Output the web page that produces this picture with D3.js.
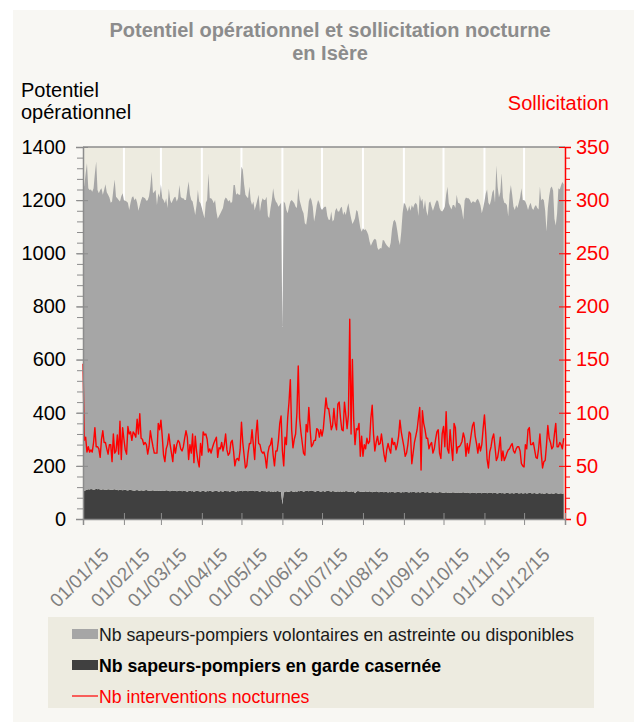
<!DOCTYPE html>
<html lang="fr">
<head>
<meta charset="utf-8">
<script src="https://cdn.jsdelivr.net/npm/d3@7"></script>
<style>
  body { margin: 0; background: #ffffff; }
  svg { display: block; font-family: 'Liberation Sans', Arial, Helvetica, sans-serif; }
</style>
</head>
<body>
<svg width="634" height="722" viewBox="0 0 634 722"></svg>
<script>
// input data, one value per day of 2015, one line per month
// potentiel opérationnel total (volontaires + garde casernée)
const potentiel = [
  1238, 1255, 1300, 1339, 1245, 1238, 1240, 1232, 1245, 1300, 1345, 1238, 1226, 1238, 1245, 1220, 1238, 1260, 1230, 1220, 1210, 1190, 1195, 1240, 1278, 1213, 1207, 1201, 1195, 1215, 1226,
  1200, 1198, 1195, 1190, 1163, 1190, 1210, 1215, 1200, 1207, 1190, 1160, 1180, 1200, 1213, 1210, 1207, 1198, 1200, 1215, 1251, 1307, 1226, 1232, 1238, 1182, 1226, 1210,
  1260, 1207, 1201, 1188, 1207, 1170, 1244, 1201, 1188, 1200, 1210, 1213, 1195, 1207, 1257, 1213, 1207, 1207, 1201, 1201, 1238, 1270, 1220, 1201, 1195, 1170, 1144, 1182, 1238, 1195, 1188,
  1170, 1150, 1132, 1190, 1201, 1301, 1207, 1207, 1201, 1188, 1201, 1157, 1130, 1140, 1150, 1160, 1170, 1200, 1210, 1205, 1195, 1201, 1188, 1195, 1257, 1257, 1220, 1226, 1220, 1220,
  1326, 1314, 1260, 1220, 1213, 1207, 1251, 1200, 1182, 1195, 1163, 1180, 1201, 1220, 1157, 1190, 1207, 1201, 1201, 1213, 1140, 1132, 1170, 1201, 1245, 1210, 1195, 1188, 1175, 1182, 1190,
  723, 1195, 1188, 1163, 1151, 1175, 1195, 1201, 1195, 1188, 1175, 1170, 1245, 1201, 1182, 1163, 1151, 1113, 1107, 1140, 1195, 1210, 1201, 1175, 1120, 1145, 1180, 1201, 1190, 1170,
  1163, 1170, 1175, 1175, 1140, 1126, 1126, 1157, 1120, 1126, 1160, 1170, 1157, 1157, 1170, 1175, 1144, 1157, 1144, 1170, 1188, 1157, 1132, 1110, 1120, 1132, 1163, 1157, 1126, 1095, 1081,
  1094, 1088, 1090, 1082, 1070, 1044, 1028, 1040, 1050, 1055, 1050, 1020, 1012, 1020, 1018, 1050, 1048, 1038, 1030, 1025, 1020, 1040, 1090, 1120, 1126, 1115, 1085, 1050, 1031, 1080, 1151,
  1190, 1185, 1170, 1157, 1180, 1160, 1182, 1170, 1185, 1190, 1182, 1140, 1220, 1195, 1205, 1165, 1201, 1160, 1140, 1190, 1195, 1175, 1160, 1175, 1190, 1201, 1195, 1170, 1160, 1157,
  1165, 1175, 1220, 1250, 1188, 1175, 1165, 1182, 1182, 1170, 1220, 1190, 1188, 1182, 1160, 1126, 1200, 1210, 1207, 1207, 1201, 1188, 1195, 1195, 1190, 1201, 1205, 1195, 1180, 1151, 1170,
  1195, 1225, 1240, 1190, 1182, 1200, 1230, 1240, 1190, 1330, 1250, 1210, 1230, 1301, 1210, 1190, 1188, 1182, 1138, 1220, 1257, 1220, 1175, 1163, 1182, 1170, 1190, 1210, 1245, 1200,
  1201, 1195, 1182, 1163, 1180, 1190, 1170, 1163, 1175, 1182, 1170, 1165, 1251, 1200, 1205, 1200, 1160, 1082, 1170, 1215, 1245, 1251, 1235, 1130, 1105, 1150, 1245, 1240, 1255, 1268, 1260,
];

// sapeurs-pompiers en garde casernée
const garde = [
  104, 106, 108, 110, 112, 111, 113, 112, 110, 111, 114, 112, 113, 111, 110, 112, 111, 109, 110, 112, 111, 110, 109, 111, 112, 110, 109, 108, 110, 109, 108,
  109, 110, 108, 107, 109, 110, 108, 107, 106, 108, 109, 107, 106, 108, 107, 106, 108, 109, 107, 106, 105, 107, 108, 106, 105, 107, 106, 105,
  106, 107, 105, 106, 108, 107, 105, 104, 106, 107, 105, 106, 104, 105, 107, 106, 104, 105, 106, 104, 103, 105, 106, 104, 105, 103, 104, 106, 105, 104, 103,
  105, 106, 104, 103, 105, 104, 106, 105, 103, 104, 105, 106, 104, 103, 105, 104, 103, 105, 106, 104, 105, 103, 104, 106, 105, 104, 103, 105, 104, 106,
  105, 104, 106, 107, 105, 104, 106, 105, 107, 106, 104, 105, 106, 104, 103, 105, 106, 104, 105, 103, 104, 105, 103, 104, 102, 104, 103, 105, 104, 103, 102,
  55, 100, 103, 104, 102, 103, 104, 105, 103, 102, 104, 103, 105, 104, 106, 105, 103, 104, 106, 105, 104, 106, 107, 105, 104, 103, 105, 106, 104, 103,
  104, 105, 103, 104, 106, 105, 104, 103, 105, 104, 103, 102, 104, 103, 104, 102, 104, 103, 105, 104, 103, 102, 104, 103, 104, 97, 103, 105, 104, 103, 102,
  103, 102, 104, 103, 102, 104, 103, 101, 103, 102, 104, 103, 101, 102, 103, 102, 101, 103, 102, 100, 102, 101, 103, 102, 100, 101, 102, 103, 101, 100, 102,
  101, 102, 103, 101, 100, 102, 101, 103, 102, 100, 101, 102, 100, 101, 103, 102, 100, 101, 102, 100, 99, 101, 102, 100, 101, 99, 100, 102, 101, 100,
  98, 100, 101, 99, 100, 98, 99, 101, 100, 99, 98, 100, 99, 98, 100, 101, 99, 98, 100, 99, 97, 98, 100, 99, 98, 97, 99, 100, 98, 97, 99,
  98, 99, 97, 98, 100, 99, 97, 98, 99, 97, 96, 98, 99, 97, 98, 96, 97, 99, 98, 96, 97, 98, 96, 97, 99, 98, 96, 97, 98, 96,
  97, 98, 96, 97, 99, 98, 96, 97, 98, 96, 95, 97, 98, 96, 97, 95, 96, 98, 97, 95, 96, 97, 95, 96, 98, 97, 95, 96, 97, 95, 96,
];

// interventions nocturnes (axe de droite)
const interventions = [
  146, 74, 77, 63, 68, 63, 65, 63, 72, 86, 68, 68, 66, 58, 75, 83, 72, 72, 66, 61, 70, 70, 54, 80, 62, 64, 79, 61, 92, 56, 86,
  75, 65, 61, 87, 80, 82, 74, 82, 80, 77, 94, 80, 99, 76, 75, 70, 72, 70, 61, 68, 83, 75, 68, 62, 62, 62, 90, 84,
  93, 78, 60, 54, 66, 70, 80, 70, 62, 54, 70, 62, 70, 74, 72, 66, 64, 68, 76, 83, 77, 56, 70, 62, 80, 53, 78, 64, 55, 49, 71,
  60, 82, 79, 80, 75, 63, 66, 62, 67, 71, 74, 77, 58, 67, 66, 72, 64, 70, 80, 65, 60, 62, 72, 74, 64, 50, 56, 57, 55, 65,
  91, 72, 60, 48, 50, 62, 71, 71, 84, 70, 56, 80, 93, 71, 70, 64, 62, 63, 58, 48, 62, 68, 70, 76, 60, 50, 64, 64, 74, 90, 97,
  64, 50, 77, 70, 95, 110, 131, 84, 67, 75, 80, 100, 144, 95, 82, 72, 62, 60, 89, 82, 105, 84, 68, 70, 74, 74, 85, 84, 77, 84,
  78, 85, 100, 114, 104, 104, 95, 84, 88, 104, 90, 84, 108, 110, 95, 84, 83, 110, 98, 85, 98, 188, 80, 150, 93, 70, 85, 84, 90, 59, 78,
  59, 70, 66, 76, 71, 73, 95, 107, 80, 64, 72, 78, 70, 71, 80, 70, 60, 54, 65, 71, 66, 62, 76, 70, 72, 65, 70, 78, 93, 82, 75,
  68, 59, 62, 70, 82, 80, 52, 62, 72, 78, 84, 95, 105, 46, 102, 90, 84, 76, 76, 66, 70, 72, 62, 66, 75, 82, 84, 62, 57, 80,
  87, 68, 101, 66, 62, 84, 68, 55, 90, 86, 62, 68, 68, 70, 73, 81, 76, 59, 71, 62, 71, 80, 88, 91, 78, 71, 62, 71, 64, 70, 85,
  98, 80, 56, 48, 63, 68, 76, 80, 68, 55, 58, 66, 77, 55, 64, 55, 58, 62, 65, 66, 69, 71, 64, 62, 66, 68, 68, 64, 52, 50,
  49, 70, 66, 84, 86, 70, 70, 72, 65, 58, 57, 66, 80, 62, 48, 54, 55, 70, 88, 76, 72, 66, 68, 80, 90, 68, 68, 72, 70, 66, 76,
];

// tick labels
const leftTicks = [0, 200, 400, 600, 800, 1000, 1200, 1400];
const rightTicks = [0, 50, 100, 150, 200, 250, 300, 350];
const monthLabels = ['01/01/15', '01/02/15', '01/03/15', '01/04/15', '01/05/15', '01/06/15', '01/07/15', '01/08/15', '01/09/15', '01/10/15', '01/11/15', '01/12/15'];

// legend entries
const legendItems = [
  { name: 'Nb sapeurs-pompiers volontaires en astreinte ou disponibles', type: 'area', color: '#a6a6a6', textColor: '#1a1a1a', weight: 'normal' },
  { name: 'Nb sapeurs-pompiers en garde casernée', type: 'area', color: '#404040', textColor: '#000000', weight: 'bold' },
  { name: 'Nb interventions nocturnes', type: 'line', color: '#ff0000', textColor: '#ff0000', weight: 'normal' },
];

const svg = d3.select('svg');

// plot area bounds in the svg canvas
const plot = { left: 83, right: 565, top: 147, bottom: 519 };

const start = new Date(2015, 0, 1);
const end = new Date(2016, 0, 1);

// one row per day, volontaires stacked on top of the garde
const rows = potentiel.map((p, i) => ({
  date: d3.timeDay.offset(start, i),
  garde: garde[i],
  volontaires: p - garde[i],
  interventions: interventions[i],
}));

const x = d3.scaleTime().domain([start, end]).range([plot.left, plot.right]);
const yLeft = d3.scaleLinear().domain([0, 1400]).range([plot.bottom, plot.top]);
const yRight = d3.scaleLinear().domain([0, 350]).range([plot.bottom, plot.top]);

// BACKGROUND
svg
  .append('rect')
  .attr('x', 13)
  .attr('y', 10)
  .attr('width', 621)
  .attr('height', 712)
  .attr('fill', '#f8f7f3');

svg
  .append('rect')
  .attr('x', plot.left)
  .attr('y', plot.top)
  .attr('width', plot.right - plot.left)
  .attr('height', plot.bottom - plot.top)
  .attr('fill', '#edebe0');

// white vertical gridlines at month starts, behind the areas
const months = d3.timeMonth.range(d3.timeMonth.offset(start, 1), end);
svg
  .append('g')
  .selectAll('line')
  .data(months)
  .join('line')
  .attr('x1', d => x(d))
  .attr('x2', d => x(d))
  .attr('y1', plot.top)
  .attr('y2', plot.bottom)
  .attr('stroke', '#ffffff')
  .attr('stroke-width', 2);

// STACKED AREAS
const stack = d3.stack().keys(['garde', 'volontaires']);
const series = stack(rows);
const areaColors = { garde: '#404040', volontaires: '#a6a6a6' };

const area = d3
  .area()
  .x(d => x(d.data.date))
  .y0(d => yLeft(d[0]))
  .y1(d => yLeft(d[1]));

svg
  .append('g')
  .selectAll('path')
  .data(series)
  .join('path')
  .attr('d', area)
  .attr('fill', d => areaColors[d.key]);

// RED LINE
const line = d3
  .line()
  .x(d => x(d.date))
  .y(d => yRight(d.interventions));

svg
  .append('path')
  .datum(rows)
  .attr('d', line)
  .attr('fill', 'none')
  .attr('stroke', '#ff0000')
  .attr('stroke-width', 1.4)
  .attr('stroke-linejoin', 'round');

// AXES
const axisGray = '#8c8c8c';

// frame line on top of the plot
svg
  .append('line')
  .attr('x1', plot.left)
  .attr('x2', plot.right)
  .attr('y1', plot.top)
  .attr('y2', plot.top)
  .attr('stroke', axisGray)
  .attr('stroke-width', 1.5);

// left axis: minor ticks every 40, major ticks cross the axis line
const gLeft = svg.append('g').attr('transform', `translate(${plot.left} 0)`);
gLeft
  .append('g')
  .call(d3.axisLeft(yLeft).tickValues(d3.range(0, 1401, 40)).tickSize(6).tickFormat(''))
  .call(g => g.select('.domain').remove())
  .selectAll('line')
  .attr('stroke', axisGray);
gLeft
  .append('g')
  .call(d3.axisLeft(yLeft).tickValues(leftTicks).tickSize(7).tickFormat(d3.format('d')))
  .call(g => g.select('.domain').attr('stroke', axisGray).attr('stroke-width', 1.5))
  .call(g => g.selectAll('line').attr('x2', -7).attr('x1', 5).attr('stroke', axisGray))
  .call(g =>
    g
      .selectAll('text')
      .attr('x', -17)
      .attr('font-size', 20)
      .attr('font-family', "'Liberation Sans', Arial, sans-serif")
      .attr('fill', '#000000')
  );

// right axis in red
const gRight = svg.append('g').attr('transform', `translate(${plot.right} 0)`);
gRight
  .append('g')
  .call(d3.axisRight(yRight).tickValues(d3.range(0, 351, 10)).tickSize(5).tickFormat(''))
  .call(g => g.select('.domain').remove())
  .selectAll('line')
  .attr('stroke', '#ff0000');
gRight
  .append('g')
  .call(d3.axisRight(yRight).tickValues(rightTicks).tickSize(6))
  .call(g => g.select('.domain').attr('stroke', '#ff0000').attr('stroke-width', 1.5))
  .call(g => g.selectAll('line').attr('x1', -6).attr('x2', 6).attr('stroke', '#ff0000'))
  .call(g =>
    g
      .selectAll('text')
      .attr('x', 11)
      .attr('font-size', 20)
      .attr('font-family', "'Liberation Sans', Arial, sans-serif")
      .attr('fill', '#ff0000')
  );

// bottom axis with ticks crossing the line at each month start
const gBottom = svg.append('g').attr('transform', `translate(0 ${plot.bottom})`);
gBottom
  .call(d3.axisBottom(x).tickValues(d3.timeMonth.range(start, d3.timeDay.offset(end, 1))).tickSize(6).tickFormat(''))
  .call(g => g.select('.domain').attr('stroke', axisGray).attr('stroke-width', 1.5))
  .call(g => g.selectAll('line').attr('y1', -6).attr('y2', 6).attr('stroke', axisGray));

// rotated month labels, text end placed right of and below each tick
svg
  .append('g')
  .selectAll('text')
  .data(monthLabels)
  .join('text')
  .attr('transform', (d, i) => `translate(${x(d3.timeMonth.offset(start, i)) + 27} 556) rotate(-45)`)
  .attr('text-anchor', 'end')
  .attr('font-size', 19)
  .attr('fill', '#808080')
  .text(d => d);

// TITLES
svg
  .append('text')
  .attr('x', 330)
  .attr('y', 37)
  .attr('text-anchor', 'middle')
  .attr('font-size', 20)
  .attr('font-weight', 'bold')
  .attr('fill', '#8c8c8c')
  .html('<tspan x="330">Potentiel opérationnel et sollicitation nocturne</tspan><tspan x="330" dy="23">en Isère</tspan>');

svg
  .append('text')
  .attr('x', 21)
  .attr('y', 97)
  .attr('font-size', 20)
  .attr('fill', '#000000')
  .html('<tspan x="21">Potentiel</tspan><tspan x="21" dy="22">opérationnel</tspan>');

svg
  .append('text')
  .attr('x', 609)
  .attr('y', 110)
  .attr('text-anchor', 'end')
  .attr('font-size', 20)
  .attr('fill', '#ff0000')
  .text('Sollicitation');

// LEGEND
const legend = svg.append('g');
legend
  .append('rect')
  .attr('x', 48)
  .attr('y', 617)
  .attr('width', 546)
  .attr('height', 91)
  .attr('fill', '#edebe0');

const legendRows = legend
  .selectAll('g')
  .data(legendItems)
  .join('g')
  .attr('transform', (d, i) => `translate(72 ${634 + i * 31})`);

legendRows
  .filter(d => d.type === 'area')
  .append('rect')
  .attr('x', 0)
  .attr('y', -5)
  .attr('width', 26)
  .attr('height', 10)
  .attr('fill', d => d.color);

legendRows
  .filter(d => d.type === 'line')
  .append('line')
  .attr('x1', 0)
  .attr('x2', 26)
  .attr('y1', 0)
  .attr('y2', 0)
  .attr('stroke', d => d.color)
  .attr('stroke-width', 1.2);

legendRows
  .append('text')
  .attr('x', 27)
  .attr('y', 6.5)
  .attr('font-size', 17.7)
  .attr('font-weight', d => d.weight)
  .attr('fill', d => d.textColor)
  .text(d => d.name);
</script>
</body>
</html>
